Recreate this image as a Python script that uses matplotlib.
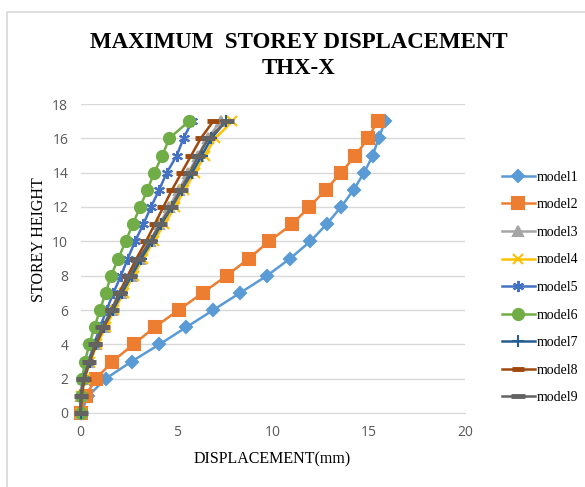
import numpy as np
import matplotlib
matplotlib.use('Agg')
from matplotlib import pyplot as plt
from matplotlib.patches import Rectangle

storey = list(range(18))

model1 = [0, 0.4, 1.3, 2.65, 4.1, 5.5, 6.9, 8.3, 9.7, 10.9, 11.95, 12.8, 13.55, 14.2, 14.75, 15.2, 15.5, 15.85]
model2 = [0, 0.25, 0.8, 1.65, 2.75, 3.85, 5.1, 6.35, 7.6, 8.75, 9.8, 11.0, 11.9, 12.75, 13.55, 14.3, 14.95, 15.45]
model3 = [0, 0.0, 0.15, 0.45, 0.8, 1.2, 1.65, 2.1, 2.6, 3.1, 3.6, 4.1, 4.6, 5.1, 5.6, 6.1, 6.6, 7.3]
model4 = [0, 0.02, 0.2, 0.5, 0.85, 1.3, 1.75, 2.25, 2.75, 3.25, 3.8, 4.35, 4.9, 5.4, 5.95, 6.45, 7.0, 7.9]
model5 = [0, 0.05, 0.15, 0.4, 0.7, 1.0, 1.35, 1.7, 2.1, 2.45, 2.83, 3.26, 3.66, 4.08, 4.48, 5.0, 5.35, 5.8]
model6 = [0, 0.02, 0.08, 0.22, 0.45, 0.72, 1.0, 1.3, 1.58, 1.96, 2.34, 2.71, 3.09, 3.47, 3.83, 4.25, 4.61, 5.64]
model7 = [0, 0.01, 0.17, 0.47, 0.8, 1.2, 1.68, 2.15, 2.65, 3.15, 3.7, 4.2, 4.75, 5.25, 5.8, 6.3, 6.8, 7.55]
model8 = [0, 0.05, 0.2, 0.45, 0.8, 1.2, 1.6, 2.0, 2.45, 2.9, 3.4, 3.85, 4.3, 4.75, 5.25, 5.75, 6.25, 6.9]
model9 = [0, 0.0, 0.14, 0.43, 0.74, 1.13, 1.61, 2.05, 2.57, 3.0, 3.61, 4.13, 4.7, 5.2, 5.69, 6.13, 6.65, 7.6]

names = ['model1', 'model2', 'model3', 'model4', 'model5', 'model6', 'model7', 'model8', 'model9']
series = [model1, model2, model3, model4, model5, model6, model7, model8, model9]
colors = ['#5B9BD5', '#ED7D31', '#A5A5A5', '#FFC000', '#4472C4', '#70AD47', '#255E91', '#9E480E', '#636363']
markers = ['D', 's', '^', 'x', (6, 2, 0), 'o', '+', '_', '_']
msizes = [6, 8, 7, 7, 8, 8, 9, 8, 10]

fig = plt.figure(figsize=(5.85, 4.87), dpi=100)
# outer chart border
fig.patches.append(Rectangle((7/585, -0.01), 1.0, 1 - 12/487 + 0.01, transform=fig.transFigure,
                             fill=False, edgecolor='#D9D9D9', linewidth=1.2))

ax = fig.add_axes([80.7/585, 1 - 413/487, (465 - 80.7)/585, (413 - 104)/487])

for name, vals, c, m, ms in zip(names, series, colors, markers, msizes):
    mew = 1.5
    if m == '_':
        mew = 3.5
    ax.plot(vals, storey, color=c, lw=1.8, marker=m, markersize=ms,
            markeredgewidth=mew, markeredgecolor=c, markerfacecolor=c,
            label=name, clip_on=False, zorder=3)

ax.set_xlim(0, 20)
ax.set_ylim(0, 18)
ax.set_xticks([0, 5, 10, 15, 20])
ax.set_yticks(range(0, 19, 2))
ax.grid(axis='y', color='#D9D9D9', lw=1)
ax.set_axisbelow(True)
for s in ['top', 'right', 'left']:
    ax.spines[s].set_visible(False)
ax.spines['bottom'].set_color('#D9D9D9')
ax.tick_params(length=0, labelsize=10, labelcolor='#595959', pad=9)
for lab in ax.get_xticklabels() + ax.get_yticklabels():
    lab.set_family('Open Sans')

fig.text(272/585, 1 - 459/487, 'DISPLACEMENT(mm)', ha='center', va='center',
         family='Liberation Serif', fontsize=11.5)
fig.text(39/585, 1 - 240/487, 'STOREY HEIGHT', ha='center', va='center', rotation=90,
         family='Liberation Serif', fontsize=11.5)

fig.text(299/585, 1 - 42/487, 'MAXIMUM  STOREY DISPLACEMENT', ha='center', va='center',
         family='Liberation Serif', fontweight='bold', fontsize=16.5)
fig.text(299/585, 1 - 68/487, 'THX-X', ha='center', va='center',
         family='Liberation Serif', fontweight='bold', fontsize=16.5)

leg = ax.legend(loc='center left', bbox_to_anchor=(489/585, 1 - 287.5/487),
                bbox_transform=fig.transFigure, frameon=False,
                prop={'family': 'Liberation Serif', 'size': 10}, labelspacing=1.05,
                handlelength=2.4, handletextpad=0.15)

fig.savefig('out.png', dpi=100)
